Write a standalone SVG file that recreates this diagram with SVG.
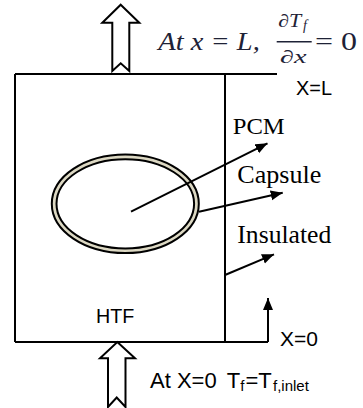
<svg xmlns="http://www.w3.org/2000/svg" width="363" height="408" viewBox="0 0 363 408">
<defs>
<style>
.ln{stroke:#000;stroke-width:2;fill:none}
.blk{fill:#fff;stroke:#000;stroke-width:2;stroke-linejoin:miter}
.serif{font-family:"Liberation Serif","Times New Roman",serif;fill:#000}
.sans{font-family:"Liberation Sans",Arial,sans-serif;fill:#000}
.eq{font-family:"Liberation Serif","DejaVu Serif",serif;font-style:italic;fill:#1e2236}
.equp{font-family:"Liberation Serif","DejaVu Serif",serif;fill:#1e2236}
</style>
<marker id="ah" markerUnits="userSpaceOnUse" markerWidth="13" markerHeight="11" refX="12" refY="5" orient="auto">
<path d="M0,0 L12,5 L0,10 z" fill="#000"/>
</marker>
</defs>
<rect width="363" height="408" fill="#fff"/>
<g id="container">
<line class="ln" x1="15" y1="74" x2="277" y2="74"/>
<line class="ln" x1="15" y1="74" x2="15" y2="342"/>
<line class="ln" x1="225" y1="74" x2="225" y2="342"/>
<line class="ln" x1="15" y1="342" x2="268" y2="342"/>
</g>
<g id="capsule">
<ellipse cx="125.3" cy="203.8" rx="73.5" ry="49.3" fill="#dcd8c3" stroke="#000" stroke-width="2"/>
<ellipse cx="125.3" cy="203.8" rx="68.8" ry="44.6" fill="#fff" stroke="#000" stroke-width="2"/>
</g>
<g id="outlet-arrow">
<polygon class="blk" points="120.7,4.7 139.3,22.7 129.3,22.7 129.3,71 120.7,63.3 112.3,71 112.3,22.7 102.3,22.7"/>
</g>
<g id="inlet-arrow">
<polygon class="blk" points="117.3,342 135,358.3 125.5,358.3 125.5,407 116.7,397.5 108,407 108,358.3 100,358.3"/>
</g>
<g id="connectors">
<line class="ln" x1="131" y1="211.7" x2="267.5" y2="143.3" marker-end="url(#ah)"/>
<line class="ln" x1="199" y1="211.7" x2="282.7" y2="192.7" marker-end="url(#ah)"/>
<line class="ln" x1="225" y1="275" x2="274" y2="254.3" marker-end="url(#ah)"/>
<line class="ln" x1="268" y1="342" x2="268" y2="298" marker-end="url(#ah)"/>
</g>
<g id="labels">
<text class="sans" x="296" y="95" font-size="21" textLength="36" lengthAdjust="spacingAndGlyphs">X=L</text>
<text class="serif" x="232.7" y="134.3" font-size="24" textLength="52" lengthAdjust="spacingAndGlyphs">PCM</text>
<text class="serif" x="237.3" y="183.3" font-size="26" textLength="84" lengthAdjust="spacingAndGlyphs">Capsule</text>
<text class="serif" x="237.3" y="243.3" font-size="26" textLength="94" lengthAdjust="spacingAndGlyphs">Insulated</text>
<text class="sans" x="96" y="323.3" font-size="21" textLength="38.3" lengthAdjust="spacingAndGlyphs">HTF</text>
<text class="sans" x="280" y="345.7" font-size="21" textLength="38" lengthAdjust="spacingAndGlyphs">X=0</text>
<text class="sans" font-size="22"><tspan x="150" y="387.5">At X=0</tspan><tspan x="226.7" y="387.5">T</tspan><tspan x="240.3" y="391" font-size="15">f</tspan><tspan x="245.5" y="387.5">=T</tspan><tspan x="273" y="391" font-size="15">f,inlet</tspan></text>
</g>
<g id="boundary-eq">
<text class="eq" x="158.3" y="50" font-size="26" textLength="101.5" lengthAdjust="spacingAndGlyphs">At x = L,</text>
<text class="eq" x="278.3" y="27" font-size="18" textLength="23" lengthAdjust="spacingAndGlyphs">∂T</text>
<text class="eq" x="303" y="30" font-size="14">f</text>
<line x1="276.7" y1="41.7" x2="311.7" y2="41.7" stroke="#1e2236" stroke-width="1.5"/>
<text class="eq" x="280" y="63.3" font-size="18" textLength="26.5" lengthAdjust="spacingAndGlyphs">∂x</text>
<text class="equp" x="315" y="50" font-size="26" textLength="42" lengthAdjust="spacingAndGlyphs">= 0</text>
</g>
</svg>
